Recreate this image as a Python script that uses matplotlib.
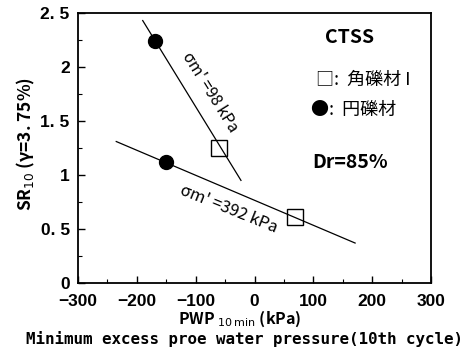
import matplotlib
matplotlib.use("Agg")
import matplotlib.pyplot as plt
from matplotlib.ticker import MultipleLocator, FixedLocator

plt.rcParams['font.family'] = ['Noto Sans CJK JP', 'DejaVu Sans']

# Data
round_x = [-169, -151]          # 円礫材 (filled circles)
round_y = [2.24, 1.12]
angular_x = [-60, 69]           # 角礫材 I (open squares)
angular_y = [1.25, 0.61]
line98_x = [-190, -23]
line98_y = [2.43, 0.95]
line392_x = [-235, 171]
line392_y = [1.31, 0.37]

xticks = [-300, -200, -100, 0, 100, 200, 300]
xticklabels = ['−300', '−200', '−100', '0', '100', '200', '300']
yticks = [0, 0.5, 1, 1.5, 2, 2.5]
yticklabels = ['0', '0. 5', '1', '1. 5', '2', '2. 5']

tick_family = ['Liberation Sans', 'DejaVu Sans']

fig = plt.figure(figsize=(4.74, 3.48), dpi=100)
ax = fig.add_axes([78/474, 1 - 283/348, 353/474, 270/348])

ax.plot(line98_x, line98_y, color='black', lw=0.9)
ax.plot(line392_x, line392_y, color='black', lw=0.9)
ax.plot(round_x, round_y, 'o', color='black', markersize=10, zorder=3)
ax.plot(angular_x, angular_y, 's', markerfacecolor='none', markeredgecolor='black',
        markersize=12, markeredgewidth=1.0, zorder=3)

ax.set_xlim(-300, 300)
ax.set_ylim(0, 2.5)
ax.xaxis.set_major_locator(FixedLocator(xticks))
ax.set_xticklabels(xticklabels)
ax.xaxis.set_minor_locator(MultipleLocator(50))
ax.yaxis.set_major_locator(FixedLocator(yticks))
ax.set_yticklabels(yticklabels)
ax.yaxis.set_minor_locator(MultipleLocator(0.25))
ax.tick_params(which='both', direction='in', top=False, right=False)
ax.tick_params(which='major', length=5, width=1)
ax.tick_params(which='minor', length=3, width=0.8)
ax.tick_params(axis='x', which='major', pad=8)
ax.tick_params(axis='y', which='major', pad=6)
for lab in ax.get_xticklabels() + ax.get_yticklabels():
    lab.set_fontsize(12.5)
    lab.set_fontweight('bold')
    lab.set_family(tick_family)
for s in ax.spines.values():
    s.set_linewidth(1.3)

ax.text(-76, 1.77, "σm' =98 kPa", rotation=-58, ha='center', va='center', fontsize=11.5)
ax.text(-43, 0.68, "σm' =392 kPa", rotation=-22, ha='center', va='center', fontsize=12)

ax.text(162, 2.27, 'CTSS', ha='center', va='center', fontsize=14, fontweight='bold')
ax.text(185, 1.88, '□:  角礫材 I', ha='center', va='center', fontsize=13)
ax.text(168, 1.60, '●:  円礫材', ha='center', va='center', fontsize=13)
ax.text(163, 1.12, 'Dr=85%', ha='center', va='center', fontsize=14, fontweight='bold')

fig.text(26/474, 1 - 144/348, 'SR$_{10}$ (γ=3. 75%)', rotation=90, ha='center', va='center',
         fontsize=12.5, fontweight='bold')
fig.text(240/474, 1 - 319/348, 'PWP $_{10\\,\\mathrm{min}}$ (kPa)', ha='center', va='center',
         fontsize=11.5, fontweight='bold')
fig.text(244/474, 1 - 339/348, 'Minimum excess proe water pressure(10th cycle)',
         ha='center', va='center', fontsize=11.4, family='DejaVu Sans Mono', fontweight='bold')

fig.savefig('out.png', dpi=100)
